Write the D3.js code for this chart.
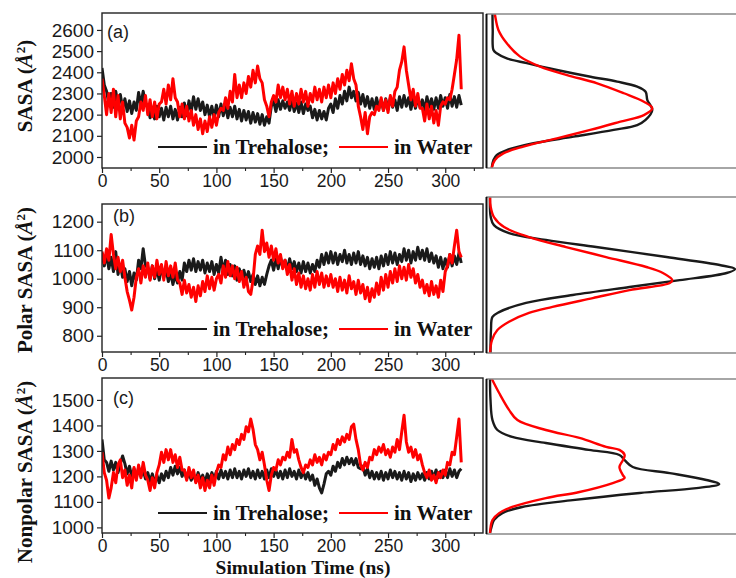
<!DOCTYPE html>
<html>
<head>
<meta charset="utf-8">
<script src="https://cdn.jsdelivr.net/npm/d3@7/dist/d3.min.js"></script>
<style>
  body { margin: 0; background: #fff; }
  svg { display: block; }
</style>
</head>
<body>
<svg id="fig" width="736" height="578"></svg>
<script>
// Sampling interval of the stored trajectory frames (ns)
const timeStep = 2;
const timeTicks = [0, 50, 100, 150, 200, 250, 300];
const timeMinorTicks = [25, 75, 125, 175, 225, 275, 325];

// ---- (a) total SASA (Å²) ----
const sasaTicks = [2000, 2100, 2200, 2300, 2400, 2500, 2600];
const sasaTrehalose = [
  2420, 2340, 2310, 2250, 2300, 2235, 2310, 2250, 2295, 2230,
  2275, 2215, 2265, 2205, 2260, 2220, 2305, 2245, 2310, 2250,
  2245, 2185, 2235, 2180, 2240, 2190, 2230, 2175, 2235, 2190,
  2240, 2180, 2225, 2175, 2235, 2190, 2255, 2195, 2265, 2215,
  2285, 2225, 2275, 2220, 2260, 2200, 2245, 2190, 2240, 2185,
  2245, 2190, 2250, 2195, 2240, 2185, 2235, 2190, 2240, 2180,
  2225, 2170, 2220, 2175, 2215, 2160, 2210, 2165, 2205, 2155,
  2200, 2150, 2190, 2160, 2240, 2265, 2215, 2270, 2225, 2265,
  2230, 2260, 2220, 2270, 2215, 2255, 2210, 2260, 2205, 2250,
  2220, 2240, 2185, 2225, 2175, 2220, 2180, 2215, 2175, 2230,
  2250, 2210, 2275, 2230, 2290, 2250, 2310, 2265, 2330, 2280,
  2310, 2265, 2305, 2250, 2295, 2240, 2285, 2230, 2275, 2225,
  2280, 2230, 2270, 2220, 2275, 2225, 2280, 2235, 2270, 2220,
  2285, 2235, 2290, 2240, 2280, 2225, 2275, 2230, 2280, 2235,
  2270, 2220, 2285, 2235, 2275, 2225, 2280, 2230, 2290, 2240,
  2280, 2230, 2295, 2240, 2285, 2235, 2290, 2245
];
const sasaWater = [
  2370, 2290, 2200, 2300, 2210, 2320, 2190, 2290, 2180, 2260,
  2160, 2140, 2090, 2150, 2080, 2170, 2190, 2260, 2220, 2290,
  2200, 2270, 2190, 2260, 2180, 2250, 2260, 2320, 2250, 2340,
  2270, 2370, 2280, 2260, 2190, 2250, 2180, 2240, 2170, 2220,
  2150, 2200, 2130, 2180, 2110, 2170, 2120, 2190, 2140, 2200,
  2150, 2210, 2230, 2220, 2280, 2230, 2310, 2260, 2390, 2280,
  2340, 2280, 2350, 2300, 2380, 2330, 2410, 2350, 2430, 2370,
  2350, 2270, 2240, 2190, 2260, 2290, 2260, 2340, 2280, 2330,
  2270, 2320, 2250, 2310, 2240, 2300, 2250, 2320, 2260, 2310,
  2240, 2300, 2260, 2330, 2270, 2320, 2260, 2330, 2280, 2340,
  2280, 2350, 2300, 2370, 2320, 2390, 2340, 2410, 2360, 2440,
  2370, 2340, 2240, 2190, 2130, 2210, 2110, 2190, 2210, 2200,
  2240, 2220, 2280, 2220, 2270, 2210, 2290, 2240, 2310, 2330,
  2410, 2450, 2520, 2410, 2340, 2270, 2320, 2240, 2300, 2230,
  2230, 2170, 2250, 2180, 2240, 2160, 2220, 2150, 2240, 2260,
  2250, 2280, 2270, 2320, 2390, 2460, 2575, 2320
];
// distributions of (a): SASA value and relative probability
const sasaDistTreValue = [2680, 2600, 2505, 2490, 2466, 2443, 2411, 2379, 2356, 2332, 2308, 2269, 2222, 2175, 2151, 2128, 2096, 2065, 2033, 2009, 1986, 1948];
const sasaDistTreProb  = [0.010, 0.011, 0.014, 0.027, 0.068, 0.149, 0.271, 0.407, 0.515, 0.596, 0.630, 0.637, 0.657, 0.630, 0.596, 0.501, 0.339, 0.176, 0.068, 0.027, 0.014, 0.007];
const sasaDistWatValue = [2680, 2671, 2600, 2537, 2474, 2427, 2387, 2348, 2301, 2261, 2230, 2198, 2167, 2128, 2088, 2049, 2017, 1986, 1948];
const sasaDistWatProb  = [0.018, 0.020, 0.034, 0.068, 0.122, 0.203, 0.312, 0.434, 0.542, 0.623, 0.657, 0.623, 0.528, 0.406, 0.271, 0.135, 0.054, 0.020, 0.007];

// ---- (b) polar SASA (Å²) ----
const polarTicks = [800, 900, 1000, 1100, 1200];
const polarTrehalose = [
  1090, 1045, 1085, 1035, 1075, 1025, 1095, 1015, 1050, 1005,
  1035, 990, 1025, 975, 1020, 995, 1065, 1035, 1105, 1045,
  1040, 1000, 1045, 1000, 1035, 995, 1040, 1005, 1035, 990,
  1020, 980, 1015, 985, 1025, 995, 1055, 1025, 1065, 1030,
  1070, 1025, 1060, 1030, 1065, 1020, 1055, 1025, 1060, 1015,
  1050, 1020, 1075, 1025, 1065, 1015, 1050, 1010, 1045, 995,
  1035, 1000, 1030, 995, 1025, 990, 1015, 980, 1010, 975,
  1005, 980, 1015, 1045, 1065, 1030, 1070, 1035, 1075, 1040,
  1065, 1030, 1070, 1035, 1060, 1025, 1055, 1020, 1060, 1025,
  1055, 1020, 1050, 1025, 1065, 1040, 1085, 1050, 1090, 1055,
  1095, 1055, 1090, 1050, 1085, 1060, 1100, 1055, 1085, 1050,
  1090, 1055, 1095, 1050, 1080, 1045, 1075, 1035, 1070, 1040,
  1075, 1035, 1080, 1045, 1085, 1050, 1095, 1055, 1090, 1050,
  1085, 1060, 1105, 1065, 1100, 1055, 1095, 1065, 1110, 1070,
  1100, 1065, 1105, 1060, 1090, 1055, 1080, 1040, 1075, 1035,
  1070, 1040, 1085, 1045, 1080, 1050, 1090, 1055
];
const polarWater = [
  1095, 1055, 1105, 1065, 1155, 1085, 1035, 1075, 1025, 1065,
  1005, 955, 925, 890, 935, 1005, 1035, 985, 1045, 1005,
  1055, 995, 1045, 1005, 1065, 1015, 1050, 995, 1060, 1010,
  1045, 1005, 1055, 995, 985, 945, 995, 950, 980, 935,
  970, 920, 975, 940, 990, 955, 1010, 965, 1005, 960,
  1000, 1015, 985, 1045, 1005, 1060, 1010, 1045, 1000, 1040,
  990, 1025, 970, 1005, 955, 945, 995, 1085, 1115, 1085,
  1170, 1095, 1125, 1075, 1115, 1065, 1105, 1055, 1085, 1035,
  1065, 1015, 1050, 995, 1035, 980, 1020, 970, 1010, 965,
  1000, 960, 1015, 970, 1025, 980, 1020, 970, 1010, 975,
  1015, 970, 1000, 955, 1005, 960, 995, 950, 1010, 965,
  990, 945, 995, 950, 980, 930, 970, 920, 965, 935,
  985, 945, 1005, 960, 1015, 970, 1025, 985, 1035, 990,
  1045, 1000, 1040, 995, 1050, 1005, 1035, 985, 1015, 970,
  995, 950, 980, 940, 990, 945, 975, 935, 995, 955,
  1025, 1045, 1085, 1055, 1115, 1170, 1095, 1075
];
const polarDistTreValue = [1290, 1216, 1188, 1160, 1136, 1111, 1076, 1048, 1034, 1020, 995, 971, 943, 915, 883, 866, 820, 739];
const polarDistTreProb  = [0.000, 0.003, 0.016, 0.077, 0.226, 0.430, 0.715, 0.930, 0.992, 0.958, 0.768, 0.565, 0.335, 0.146, 0.037, 0.010, 0.004, 0.002];
const polarDistWatValue = [1290, 1251, 1216, 1181, 1146, 1111, 1076, 1041, 1020, 995, 985, 960, 932, 901, 880, 849, 820, 785, 739];
const polarDistWatProb  = [0.000, 0.003, 0.016, 0.057, 0.158, 0.308, 0.470, 0.633, 0.700, 0.738, 0.728, 0.565, 0.416, 0.253, 0.158, 0.077, 0.030, 0.008, 0.000];

// ---- (c) nonpolar SASA (Å²) ----
const nonpolarTicks = [1000, 1100, 1200, 1300, 1400, 1500];
const nonpolarTrehalose = [
  1345, 1265, 1255, 1220, 1260, 1225, 1255, 1215, 1250, 1280,
  1250, 1210, 1240, 1200, 1230, 1195, 1235, 1200, 1225, 1190,
  1215, 1180, 1210, 1175, 1205, 1175, 1210, 1185, 1220, 1195,
  1235, 1205, 1240, 1210, 1235, 1200, 1225, 1190, 1215, 1185,
  1210, 1180, 1215, 1185, 1205, 1175, 1210, 1185, 1215, 1190,
  1220, 1190, 1225, 1195, 1220, 1190, 1225, 1195, 1230, 1195,
  1220, 1190, 1225, 1200, 1230, 1195, 1220, 1190, 1225, 1195,
  1220, 1190, 1225, 1195, 1230, 1200, 1225, 1195, 1220, 1190,
  1225, 1195, 1230, 1200, 1220, 1190, 1225, 1195, 1220, 1190,
  1215, 1185, 1205, 1165, 1190, 1155, 1135, 1170, 1210, 1220,
  1205, 1240, 1220, 1255, 1235, 1270, 1245, 1275, 1250, 1270,
  1245, 1270, 1235, 1230, 1240, 1205, 1230, 1195, 1220, 1190,
  1215, 1190, 1220, 1185, 1215, 1190, 1225, 1195, 1220, 1190,
  1215, 1185, 1220, 1190, 1215, 1180, 1210, 1185, 1215, 1190,
  1210, 1185, 1215, 1190, 1220, 1195, 1225, 1195, 1220, 1195,
  1225, 1195, 1230, 1200, 1225, 1195, 1220, 1230
];
const nonpolarWater = [
  1295, 1215, 1185, 1115, 1155, 1215, 1175, 1245, 1265, 1195,
  1225, 1165, 1205, 1155, 1235, 1185, 1245, 1195, 1255, 1205,
  1185, 1145, 1195, 1155, 1215, 1245, 1295, 1255, 1305, 1265,
  1305, 1255, 1285, 1235, 1275, 1225, 1225, 1185, 1235, 1195,
  1225, 1175, 1205, 1155, 1195, 1145, 1185, 1155, 1205, 1165,
  1215, 1245, 1235, 1285, 1265, 1315, 1285, 1325, 1305, 1345,
  1325, 1365, 1345, 1395, 1375, 1425, 1385, 1325, 1305, 1265,
  1295, 1245, 1185, 1145, 1205, 1235, 1225, 1265, 1245, 1275,
  1265, 1295, 1275, 1345, 1295, 1305, 1265, 1235, 1215, 1245,
  1235, 1265, 1245, 1285, 1255, 1275, 1245, 1285, 1265, 1295,
  1285, 1325, 1305, 1345, 1325, 1355, 1335, 1365, 1345, 1395,
  1405, 1345, 1305, 1245, 1225, 1255, 1235, 1275, 1265, 1305,
  1285, 1315, 1295, 1325, 1285, 1305, 1275, 1315, 1295, 1345,
  1305, 1375, 1440, 1335, 1295, 1315, 1275, 1305, 1265, 1285,
  1245, 1215, 1195, 1225, 1185, 1205, 1175, 1215, 1195, 1225,
  1205, 1255, 1245, 1295, 1285, 1355, 1425, 1255
];
const nonpolarDistTreValue = [1590, 1500, 1421, 1382, 1355, 1331, 1304, 1284, 1264, 1237, 1213, 1186, 1170, 1154, 1135, 1107, 1080, 1056, 1029, 1001, 978];
const nonpolarDistTreProb  = [0.000, 0.002, 0.010, 0.030, 0.090, 0.226, 0.400, 0.524, 0.545, 0.578, 0.728, 0.876, 0.928, 0.836, 0.606, 0.335, 0.130, 0.050, 0.016, 0.006, 0.000];
const nonpolarDistWatValue = [1583, 1527, 1461, 1421, 1382, 1351, 1316, 1304, 1284, 1264, 1237, 1205, 1194, 1174, 1139, 1115, 1080, 1056, 1029, 978];
const nonpolarDistWatProb  = [0.007, 0.037, 0.077, 0.111, 0.226, 0.362, 0.470, 0.524, 0.545, 0.538, 0.524, 0.538, 0.545, 0.497, 0.362, 0.226, 0.090, 0.037, 0.010, 0.000];

const legendLabels = ["in Trehalose;", "in Water"];
const seriesColors = ["#1a1a1a", "#ff0000"];

// ---------------------------------------------------------------
const svg = d3.select("#fig");
const sansFont = "'Liberation Sans', Arial, sans-serif";
const serifFont = "'Liberation Serif', 'Times New Roman', serif";

const x = d3.scaleLinear().domain([0, 333]).range([102, 483]);
const probX = d3.scaleLinear().domain([0, 1]).range([490, 737]);

const panels = [
  { key: "a", label: "(a)", tre: sasaTrehalose, wat: sasaWater, ticks: sasaTicks,
    domain: [1948, 2680], top: 13, bottom: 168, rTop: 14, rBottom: 168,
    dist: [[sasaDistTreValue, sasaDistTreProb], [sasaDistWatValue, sasaDistWatProb]],
    title: "SASA", titleY: 86, legendY: 147, labelX: 107, labelY: 38 },
  { key: "b", label: "(b)", tre: polarTrehalose, wat: polarWater, ticks: polarTicks,
    domain: [743, 1262], top: 204, bottom: 352, rTop: 197, rBottom: 353,
    dist: [[polarDistTreValue, polarDistTreProb], [polarDistWatValue, polarDistWatProb]],
    title: "Polar SASA", titleY: 280, legendY: 329, labelX: 113, labelY: 222 },
  { key: "c", label: "(c)", tre: nonpolarTrehalose, wat: nonpolarWater, ticks: nonpolarTicks,
    domain: [978, 1586], top: 378, bottom: 533, rTop: 379, rBottom: 534,
    dist: [[nonpolarDistTreValue, nonpolarDistTreProb], [nonpolarDistWatValue, nonpolarDistWatProb]],
    title: "Nonpolar SASA", titleY: 472, legendY: 513, labelX: 113, labelY: 404 }
];

const defs = svg.append("defs");

panels.forEach(p => {
  const y = d3.scaleLinear().domain(p.domain).range([p.bottom, p.top]);
  const g = svg.append("g").attr("class", "panel-" + p.key);

  // clip regions for time series and distributions
  defs.append("clipPath").attr("id", "clipL" + p.key)
    .append("rect").attr("x", x.range()[0]).attr("y", p.top)
    .attr("width", x.range()[1] - x.range()[0]).attr("height", p.bottom - p.top);
  defs.append("clipPath").attr("id", "clipR" + p.key)
    .append("rect").attr("x", 486).attr("y", p.rTop)
    .attr("width", 260).attr("height", p.rBottom - p.rTop);

  // time series (water drawn over trehalose)
  const line = d3.line()
    .x((d, i) => x(i * timeStep))
    .y(d => y(d));
  const series = g.append("g").attr("clip-path", `url(#clipL${p.key})`);
  [p.tre, p.wat].forEach((vals, k) => {
    series.append("path")
      .datum(vals)
      .attr("d", line)
      .attr("fill", "none")
      .attr("stroke", seriesColors[k])
      .attr("stroke-width", 3)
      .attr("stroke-linejoin", "round");
  });

  // frame of the time-series panel
  g.append("rect")
    .attr("x", x.range()[0]).attr("y", p.top)
    .attr("width", x.range()[1] - x.range()[0]).attr("height", p.bottom - p.top)
    .attr("fill", "none").attr("stroke", "#222").attr("stroke-width", 1.4);

  // left axis
  const yAxis = g.append("g")
    .attr("transform", `translate(${x.range()[0]},0)`)
    .call(d3.axisLeft(y).tickValues(p.ticks).tickSize(5).tickPadding(3).tickFormat(d3.format("d")));
  yAxis.select(".domain").remove();
  yAxis.selectAll("line").attr("stroke", "#222").attr("stroke-width", 1.2);
  yAxis.selectAll("text").attr("font-family", sansFont).attr("font-size", 19).attr("fill", "#1a1a1a");

  // bottom axis, major and minor ticks
  const xAxis = g.append("g")
    .attr("transform", `translate(0,${p.bottom})`)
    .call(d3.axisBottom(x).tickValues(timeTicks).tickSize(5).tickPadding(2).tickFormat(d3.format("d")));
  xAxis.select(".domain").remove();
  xAxis.selectAll("line").attr("stroke", "#222").attr("stroke-width", 1.2);
  xAxis.selectAll("text").attr("font-family", sansFont).attr("font-size", 17.5).attr("fill", "#1a1a1a");
  const xMinor = g.append("g")
    .attr("transform", `translate(0,${p.bottom})`)
    .call(d3.axisBottom(x).tickValues(timeMinorTicks).tickSize(3).tickFormat(""));
  xMinor.select(".domain").remove();
  xMinor.selectAll("line").attr("stroke", "#222").attr("stroke-width", 1.1);

  // panel tag
  g.append("text").attr("x", p.labelX).attr("y", p.labelY)
    .attr("font-family", sansFont).attr("font-size", 18).attr("fill", "#1a1a1a")
    .text(p.label);

  // legend
  const lg = g.append("g").attr("font-family", serifFont).attr("font-weight", "bold")
    .attr("font-size", 21).attr("fill", "#111");
  lg.append("line").attr("x1", 158).attr("x2", 207).attr("y1", p.legendY).attr("y2", p.legendY)
    .attr("stroke", seriesColors[0]).attr("stroke-width", 2.2);
  lg.append("text").attr("x", 213).attr("y", p.legendY + 7).text(legendLabels[0]);
  lg.append("line").attr("x1", 339).attr("x2", 388).attr("y1", p.legendY).attr("y2", p.legendY)
    .attr("stroke", seriesColors[1]).attr("stroke-width", 2.2);
  lg.append("text").attr("x", 394).attr("y", p.legendY + 7).text(legendLabels[1]);

  // y-axis title
  const t = g.append("text")
    .attr("transform", `translate(32,${p.titleY}) rotate(-90)`)
    .attr("text-anchor", "middle")
    .attr("font-family", serifFont).attr("font-size", 21)
    .attr("font-weight", "bold").attr("fill", "#111");
  t.append("tspan").text(p.title + " (");
  t.append("tspan").attr("font-style", "italic").text("Å");
  t.append("tspan").attr("baseline-shift", "super").attr("font-size", 13).text("2");
  t.append("tspan").text(")");

  // distribution panel
  const dg = g.append("g");
  const distLine = d3.line()
    .x(d => probX(d[1]))
    .y(d => y(d[0]))
    .curve(d3.curveCatmullRom.alpha(0.5));
  const dclip = dg.append("g").attr("clip-path", `url(#clipR${p.key})`);
  p.dist.forEach((pair, k) => {
    const pts = pair[0].map((v, i) => [v, pair[1][i]]);
    dclip.append("path")
      .datum(pts)
      .attr("d", distLine)
      .attr("fill", "none")
      .attr("stroke", seriesColors[k])
      .attr("stroke-width", 2.4)
      .attr("stroke-linejoin", "round");
  });
  dg.append("line").attr("x1", 486).attr("x2", 740).attr("y1", p.rTop).attr("y2", p.rTop)
    .attr("stroke", "#888").attr("stroke-width", 1.3);
  dg.append("line").attr("x1", 486).attr("x2", 740).attr("y1", p.rBottom).attr("y2", p.rBottom)
    .attr("stroke", "#888").attr("stroke-width", 1.3);
  dg.append("line").attr("x1", 486.5).attr("x2", 486.5).attr("y1", p.rTop).attr("y2", p.rBottom)
    .attr("stroke", "#111").attr("stroke-width", 2);
});

// shared x-axis title
svg.append("text")
  .attr("x", 303).attr("y", 574)
  .attr("text-anchor", "middle")
  .attr("font-family", serifFont).attr("font-weight", "bold")
  .attr("font-size", 19.5).attr("fill", "#111")
  .text("Simulation Time (ns)");
</script>
</body>
</html>
